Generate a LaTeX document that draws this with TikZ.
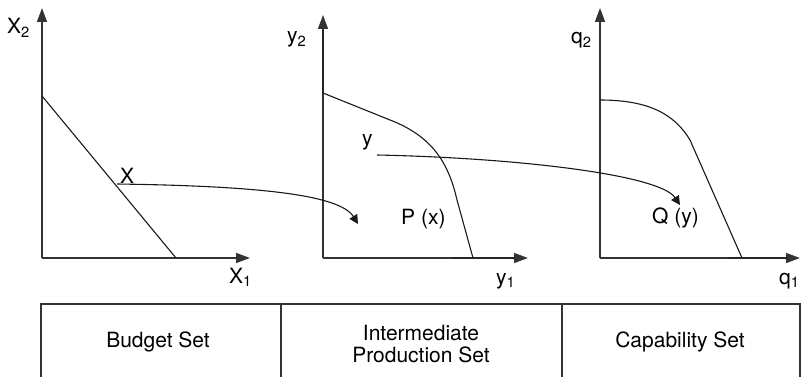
\documentclass[tikz,border=0pt]{standalone}
\usepackage{fontspec}
\setmainfont{TeX Gyre Heros}
\usetikzlibrary{arrows.meta,positioning}

\begin{document}
\begin{tikzpicture}[
    x=1pt, y=-1pt,
    axis/.style={line width=1.5pt, black!80, -{Triangle[length=14pt, width=10pt]}},
    curve/.style={line width=1.1pt, black!90},
    arr/.style={line width=1.1pt, black!90, -{Triangle[length=9pt, width=9pt]}},
    lbl/.style={anchor=base west, inner sep=0pt, font=\fontsize{21}{23}\selectfont},
    cell/.style={align=center, inner sep=0pt, font=\fontsize{21}{21.5}\selectfont},
    rule/.style={line width=1.5pt, black!80}
  ]
  \useasboundingbox (0,0) rectangle (801,377);

  %% ---- Budget set ----
  \coordinate (o1) at (42,258);
  \draw[axis] (o1) -- (42,8);
  \draw[axis] (o1) -- (250,258);
  \node[lbl] (x2) at (7,34) {X\textsubscript{2}};
  \node[lbl] (x1) at (229,283) {X\textsubscript{1}};
  \draw[curve] (42,96) -- (176,258);
  \coordinate (x) at (117,184);
  \node[lbl] (xl) at (120,183) {X};

  %% ---- Intermediate production set ----
  \coordinate (o2) at (323,258);
  \draw[axis] (o2) -- (323,15);
  \draw[line width=2.4pt, black!85] (323,93) -- (323,30);
  \draw[axis] (o2) -- (528,258);
  \draw[line width=2.2pt, black!85] (452,258) -- (515,258);
  \node[lbl] (y2) at (287,43) {y\textsubscript{2}};
  \node[lbl] (y1) at (496,284) {y\textsubscript{1}};
  \draw[curve] (323,93) -- (395,122)
    .. controls (430,137) and (448,160) .. (457,200) -- (473,258);
  \coordinate (px) at (358,224);
  \coordinate (y) at (377,155);
  \node[lbl] (yl) at (362,146) {y};
  \node[lbl] (pl) at (401,224) {P (x)};

  %% ---- Capability set ----
  \coordinate (o3) at (600,258);
  \draw[axis] (o3) -- (600,8);
  \draw[axis] (o3) -- (800,258);
  \draw[line width=2.2pt, black!85] (728,258) -- (788,258);
  \node[lbl] (q2) at (571,44) {q\textsubscript{2}};
  \node[lbl] (q1) at (779,284) {q\textsubscript{1}};
  \draw[curve] (600,100) .. controls (650,100) and (675,115) .. (690,140)
    -- (742,258);
  \coordinate (qy) at (680,205);
  \node[lbl] (ql) at (652,223) {Q (y)};

  %% Mappings
  \draw[arr] (x) .. controls (260,186) and (340,195) .. (px);
  \draw[arr] (y) .. controls (520,158) and (660,175) .. (qy);

  %% ---- Table ----
  \draw[rule] (41,377) -- (41,304) -- (800,304) -- (800,377);
  \draw[rule] (281,304) -- (281,377);
  \draw[rule] (562,304) -- (562,377);
  \node[cell] (budget) at (158,342) {Budget Set};
  \node[cell] (inter) at (421,344) {Intermediate\\Production Set};
  \node[cell] (capab) at (680,342) {Capability Set};

\end{tikzpicture}
\end{document}
